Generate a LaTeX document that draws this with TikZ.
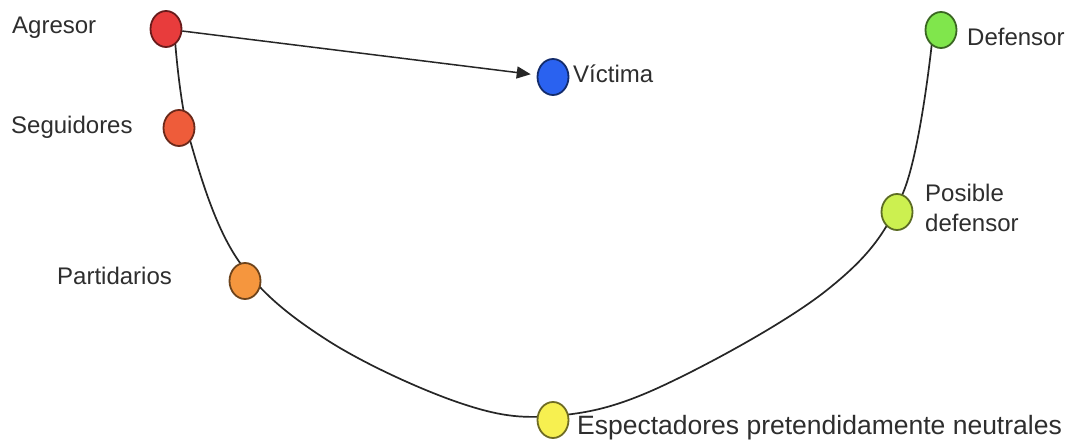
\documentclass[tikz,border=0pt]{standalone}
\usepackage{fontspec}
\setmainfont{Liberation Sans}
\usetikzlibrary{shapes.geometric,arrows.meta}
\definecolor{cAgr}{HTML}{E83C3C}
\definecolor{cSeg}{HTML}{EE5C3A}
\definecolor{cPar}{HTML}{F5963E}
\definecolor{cEsp}{HTML}{F7F050}
\definecolor{cPos}{HTML}{CCF050}
\definecolor{cDef}{HTML}{80E64C}
\definecolor{cVic}{HTML}{2A62F0}
\definecolor{txt}{HTML}{2E2E2E}
\definecolor{lin}{HTML}{262626}
\tikzset{
  dot/.style={ellipse, minimum width=31pt, minimum height=36pt, inner sep=0pt,
    line width=1.8pt, fill=#1, draw=#1!45!black},
  lbl/.style={anchor=west, text=txt, font=\fontsize{24}{30}\selectfont, inner sep=0pt},
  arc/.style={draw=lin, line width=1.7pt},
}
\begin{document}
\begin{tikzpicture}[x=1pt,y=-1pt]
\useasboundingbox[fill=white] (0,0) rectangle (1075,443);
% path points of the arc
\coordinate (q0) at (175,40);
\coordinate (q1) at (190,140);
\coordinate (q2) at (238,260);
\coordinate (q3) at (327,340);
\coordinate (q4) at (460,403);
\coordinate (q5) at (553,416);
\coordinate (q6) at (660,387);
\coordinate (q7) at (827,290);
\coordinate (q8) at (903,193);
\coordinate (q9) at (932,42);
\draw[arc] plot[smooth, tension=0.6] coordinates {(q0) (q1) (q2) (q3) (q4) (q5) (q6) (q7) (q8) (q9)};
% nodes
\node[dot=cAgr] (agr) at (166,29) {};
\node[dot=cSeg] (seg) at (179,128) {};
\node[dot=cPar] (par) at (245,281) {};
\node[dot=cEsp] (esp) at (553,420) {};
\node[dot=cPos] (pos) at (897,212) {};
\node[dot=cDef] (def) at (941,30) {};
\node[dot=cVic] (vic) at (553,77) {};
\draw[draw=lin, line width=1.5pt, -{Triangle[length=14pt,width=12pt]}, shorten >=6pt] (agr) -- (vic);
% labels
\node[lbl] (lAgr) at (12,28) {Agresor};
\node[lbl] (lSeg) at (11,127) {Seguidores};
\node[lbl] (lPar) at (57,276) {Partidarios};
\node[lbl] (lVic) at (573,74) {Víctima};
\node[lbl] (lDef) at (967,37) {Defensor};
\node[lbl, align=left] (lPos) at (925,208) {Posible\\defensor};
\node[lbl, font=\fontsize{26.5}{30}\selectfont] (lEsp) at (577,428) {Espectadores pretendidamente neutrales};
\end{tikzpicture}
\end{document}
